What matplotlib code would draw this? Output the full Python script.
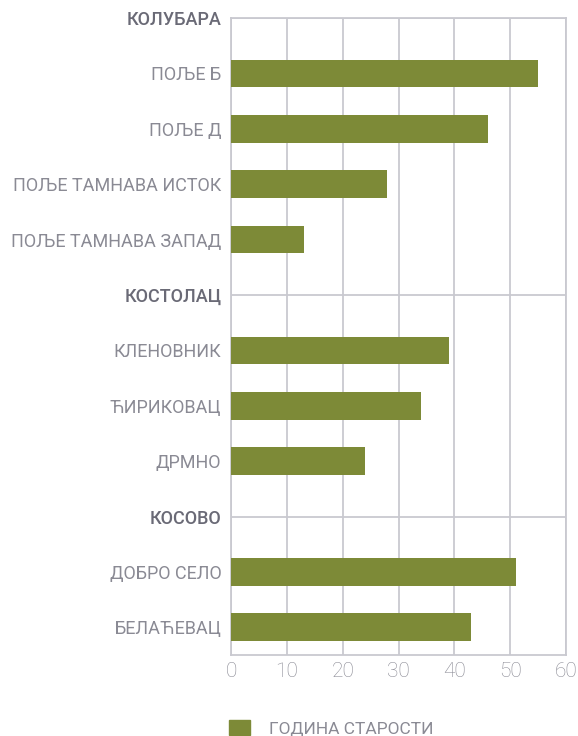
import matplotlib
matplotlib.use('Agg')
from matplotlib import pyplot as plt
from matplotlib.patches import Patch

plt.rcParams['font.family'] = ['Roboto', 'DejaVu Sans']

# rows from top to bottom; None marks a group header row
labels = ['КОЛУБАРА', 'ПОЉЕ Б', 'ПОЉЕ Д', 'ПОЉЕ ТАМНАВА ИСТОК', 'ПОЉЕ ТАМНАВА ЗАПАД',
          'КОСТОЛАЦ', 'КЛЕНОВНИК', 'ЋИРИКОВАЦ', 'ДРМНО',
          'КОСОВО', 'ДОБРО СЕЛО', 'БЕЛАЋЕВАЦ']
values = [None, 55, 46, 28, 13,
          None, 39, 34, 24,
          None, 51, 43]
xticks = [0, 10, 20, 30, 40, 50, 60]

bar_color = '#7d8a37'
grid_color = '#c9c9d0'
text_color = '#8a8a94'
head_color = '#6a6a76'

fig = plt.figure(figsize=(5.78, 7.36), dpi=100)
ax = fig.add_axes([0.3997, 0.110, 0.5799, 0.8655])

n = len(labels)
ypos = [n - 1 - i for i in range(n)]

for y, v in zip(ypos, values):
    if v is None:
        ax.axhline(y, color=grid_color, lw=1.3, zorder=1)
    else:
        ax.barh(y, v, height=0.5, color=bar_color, zorder=3)

ax.set_xlim(0, 60)
ax.set_ylim(-0.5, n - 1)
ax.set_xticks(xticks)
ax.set_yticks(ypos)
ax.set_yticklabels(labels)
ax.xaxis.grid(True, color=grid_color, lw=1.3, zorder=0)
ax.set_axisbelow(True)

for s in ax.spines.values():
    s.set_color(grid_color)
    s.set_linewidth(1.3)

ax.tick_params(axis='both', length=0, labelsize=13, labelcolor=text_color)
ax.tick_params(axis='y', pad=7)
ax.tick_params(axis='x', pad=5, labelsize=15)
for t in ax.get_xticklabels():
    t.set_fontweight('light')
for t, v in zip(ax.get_yticklabels(), values):
    if v is None:
        t.set_color(head_color)
        t.set_fontweight('medium')
    else:
        t.set_fontweight('normal')

leg = fig.legend(handles=[Patch(color=bar_color, label='ГОДИНА СТАРОСТИ')],
                 loc='lower left', bbox_to_anchor=(0.37, -0.022), frameon=False,
                 handlelength=1.2, handleheight=1.0, handletextpad=1.1,
                 prop={'size': 12.5, 'weight': 'normal'})
for t in leg.get_texts():
    t.set_color(text_color)

fig.savefig('out.png', dpi=100)
